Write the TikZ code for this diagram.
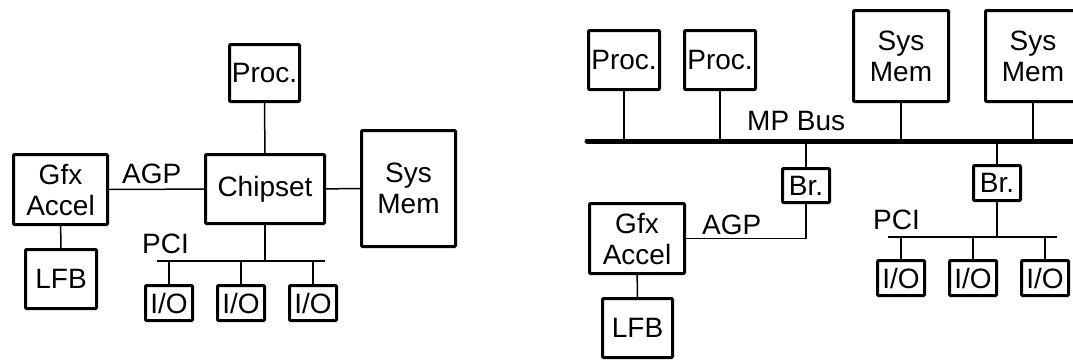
\documentclass[tikz,border=0pt]{standalone}
\usepackage{fontspec}
\setmainfont{Liberation Sans}
\usepackage{tikz}
\usetikzlibrary{positioning}
\usetikzlibrary{calc}

\begin{document}
\begin{tikzpicture}[x=1pt,y=-1pt]
			\tikzstyle{every node}=[font=\fontsize{28}{31}\selectfont,inner sep=0pt]
			\tikzstyle{blk}=[draw,line width=3pt,rounded corners=1pt,align=center]
			\tikzstyle{lbl}=[anchor=base west]
			\tikzstyle{wire}=[line width=1.5pt]
			\useasboundingbox (0,0) rectangle (1073,360);
			
			% single processor system
			\node[blk,minimum width=70,minimum height=57] (procL) at (264.5,73) {Proc.};
			\node[blk,minimum width=119,minimum height=69] (chip) at (265,189) {Chipset};
			\node[blk,minimum width=94,minimum height=116] (memL) at (408.5,188.5) {Sys\\Mem};
			\node[blk,minimum width=94,minimum height=70] (gfxL) at (60.5,189.5) {Gfx\\Accel};
			\node[blk,minimum width=71,minimum height=59] (lfbL) at (61,279) {LFB};
			\node[blk,minimum width=47,minimum height=35] (ioL1) at (169,303) {I/O};
			\node[blk,minimum width=47,minimum height=35] (ioL2) at (241,303) {I/O};
			\node[blk,minimum width=47,minimum height=35] (ioL3) at (313,303) {I/O};
			\node[lbl] (agpL) at (122,183) {AGP};
			\node[lbl] (pciL) at (142,253) {PCI};
			\coordinate (pciLa) at (157,261);
			\coordinate (pciLb) at (325,261);
			
			\path[wire]
				(procL) edge (chip)
				(gfxL) edge (chip)
				(chip) edge (memL)
				(gfxL) edge (lfbL)
				(chip) edge (chip |- pciLa)
				(pciLa) edge (pciLb)
				(ioL1) edge (ioL1 |- pciLa)
				(ioL2) edge (ioL2 |- pciLa)
				(ioL3) edge (ioL3 |- pciLa);
			
			% multiprocessor system
			\node[blk,minimum width=71,minimum height=59] (procR1) at (624,60) {Proc.};
			\node[blk,minimum width=71,minimum height=59] (procR2) at (720,60) {Proc.};
			\node[blk,minimum width=95,minimum height=91] (memR1) at (901,56) {Sys\\Mem};
			\node[blk,minimum width=95,minimum height=91] (memR2) at (1033,56) {Sys\\Mem};
			\node[blk,minimum width=47,minimum height=34] (brR1) at (806,185.5) {Br.};
			\node[blk,minimum width=47,minimum height=35] (brR2) at (997,183) {Br.};
			\node[blk,minimum width=95,minimum height=70] (gfxR) at (637,238.5) {Gfx\\Accel};
			\node[blk,minimum width=70,minimum height=59] (lfbR) at (637.5,328) {LFB};
			\node[blk,minimum width=47,minimum height=35] (ioR1) at (901,278) {I/O};
			\node[blk,minimum width=47,minimum height=35] (ioR2) at (973,278) {I/O};
			\node[blk,minimum width=47,minimum height=35] (ioR3) at (1045,278) {I/O};
			\node[lbl] (mpbus) at (747,130) {MP Bus};
			\node[lbl] (agpR) at (702,234) {AGP};
			\node[lbl] (pciR) at (873,229) {PCI};
			\coordinate (busa) at (587,141);
			\coordinate (busb) at (1085,141);
			\coordinate (pciRa) at (888,237);
			\coordinate (pciRb) at (1057,237);
			
			\path[wire]
				(procR1) edge (procR1 |- busa)
				(procR2) edge (procR2 |- busa)
				(memR1) edge (memR1 |- busa)
				(memR2) edge (memR2 |- busa)
				(brR1) edge (brR1 |- busa)
				(brR2) edge (brR2 |- busa)
				(gfxR) edge (lfbR)
				(brR2) edge (brR2 |- pciRa)
				(pciRa) edge (pciRb)
				(ioR1) edge (ioR1 |- pciRa)
				(ioR2) edge (ioR2 |- pciRa)
				(ioR3) edge (ioR3 |- pciRa);
			\draw[wire] (gfxR.east) -| (brR1.south);
			\draw[line width=5pt,line cap=round] (busa) -- (busb);
		\end{tikzpicture}
\end{document}
